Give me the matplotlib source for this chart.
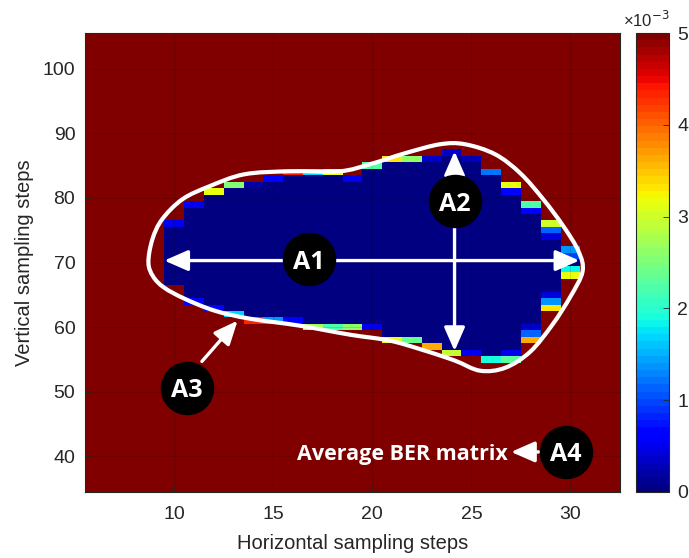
import numpy as np
import matplotlib
matplotlib.use("Agg")
import matplotlib.pyplot as plt
from matplotlib.path import Path
from matplotlib.patches import PathPatch

# ---------------- data ----------------
x_cols = np.arange(6, 33)          # horizontal sampling steps
y_rows = np.arange(35, 106)        # vertical sampling steps
ber_max = 5e-3

blue_cols = list(range(10, 31))
top_rows = [76, 79, 81, 82, 82, 83, 84, 84, 84, 83, 85, 86, 86, 86, 87, 86, 84, 82, 79, 76, 72]
bottom_rows = [67, 64, 63, 62, 61, 61, 61, 60, 60, 60, 60, 58, 58, 57, 56, 56, 55, 55, 58, 63, 68]

# edge cells (column, row, BER in units of 1e-3)
edge_cols = [10, 11, 11, 12, 12, 13, 13, 14, 14, 15, 15, 16, 16, 17, 17, 18, 18, 19, 19,
             20, 20, 21, 21, 22, 22, 23, 23, 24, 24, 25, 25, 26, 26,
             27, 27, 27, 27, 28, 28, 28, 28, 28, 29, 29, 29, 29, 29, 29, 30, 30, 30, 30]
edge_rows = [76, 79, 64, 81, 63, 82, 62, 82, 61, 83, 61, 84, 61, 84, 60, 84, 60, 83, 60,
             85, 60, 86, 58, 86, 58, 86, 57, 87, 56, 86, 56, 84, 55,
             82, 81, 56, 55, 79, 78, 60, 59, 58, 76, 75, 74, 65, 64, 63, 72, 71, 69, 68]
edge_vals = [0.5, 0.5, 0.6, 3.2, 0.7, 2.5, 1.7, 0.2, 4.3, 0.65, 1.4, 4.4, 0.55, 1.7, 2.8, 3.2, 2.2, 0.5, 2.6,
             2.2, 0.5, 3.3, 3.2, 2.6, 2.4, 0.35, 3.6, 0.35, 2.9, 0.3, 0.5, 1.2, 1.9,
             3.2, 0.6, 0.5, 2.3, 2.2, 0.6, 0.35, 1.1, 3.6, 3.0, 1.1, 0.4, 0.4, 1.4, 3.35, 1.4, 1.0, 1.85, 3.2]

# white contour outline (data coordinates)
curve_x = [8.70, 8.90, 9.39, 10.41, 11.77, 13.54, 15.82, 18.35, 19.87, 21.65, 23.42, 24.68,
           26.20, 27.47, 28.63, 29.65, 30.41, 30.61, 30.0, 29.09, 27.97, 26.71, 25.44, 24.18,
           22.66, 20.89, 18.86, 16.33, 13.80, 12.03, 10.51, 9.49, 8.94]
curve_y = [70.0, 73.57, 76.67, 79.77, 81.78, 83.64, 84.11, 84.11, 85.19, 86.9, 88.29, 88.29,
           86.74, 83.8, 79.77, 75.58, 71.71, 68.6, 64.73, 60.39, 56.2, 53.72, 53.26, 54.81,
           56.36, 57.91, 58.84, 60.23, 61.32, 62.56, 64.42, 66.12, 67.83]

# ---------------- build matrix ----------------
Z = np.full((len(y_rows), len(x_cols)), ber_max)
for c, t, b in zip(blue_cols, top_rows, bottom_rows):
    ci = c - x_cols[0]
    Z[b - y_rows[0]: t - y_rows[0] + 1, ci] = 0.0
for c, r, v in zip(edge_cols, edge_rows, edge_vals):
    Z[r - y_rows[0], c - x_cols[0]] = v * 1e-3

# ---------------- figure ----------------
plt.rcParams['font.family'] = ['Liberation Sans', 'DejaVu Sans']
fig = plt.figure(figsize=(6.89, 5.58), dpi=100)
ax = fig.add_axes([85/689, 66/558, 535/689, 459/558])
cax = fig.add_axes([636/689, 66/558, 33/689, 459/558])

cmap = plt.get_cmap('jet', 64)
mesh = ax.pcolormesh(x_cols, y_rows, Z, cmap=cmap, vmin=0, vmax=ber_max, shading='nearest')

ax.set_xlim(5.5, 32.5)
ax.set_ylim(34.5, 105.5)
ax.set_xticks([10, 15, 20, 25, 30])
ax.set_yticks([40, 50, 60, 70, 80, 90, 100])
tc = (0.15, 0.15, 0.15)
ax.tick_params(direction='in', length=4, width=0.6, colors=tc, labelsize=14, labelcolor=tc)
ax.tick_params(axis='x', pad=10)
ax.tick_params(axis='y', pad=7)
ax.grid(True, color='black', alpha=0.15, lw=0.6)
for s in ax.spines.values():
    s.set_color(tc)
    s.set_linewidth(0.8)
ax.set_xlabel('Horizontal sampling steps', fontsize=14.5, color=tc, labelpad=8)
ax.set_ylabel('Vertical sampling steps', fontsize=14.5, color=tc, labelpad=6)

# contour outline via closed Catmull-Rom -> cubic Bezier
P = np.column_stack([curve_x, curve_y])
n = len(P)
verts = [P[0]]
codes = [Path.MOVETO]
for i in range(n):
    p0, p1, p2, p3 = P[i - 1], P[i], P[(i + 1) % n], P[(i + 2) % n]
    verts += [p1 + (p2 - p0) / 6, p2 - (p3 - p1) / 6, p2]
    codes += [Path.CURVE4] * 3
ax.add_patch(PathPatch(Path(verts, codes), fill=False, edgecolor='white', lw=3, zorder=5))

# arrows
arrow_kw = dict(arrowstyle='<|-|>,head_length=0.8,head_width=0.35', color='white', lw=2.4,
                shrinkA=0, shrinkB=0, mutation_scale=18)
ax.annotate('', xy=(9.5, 70.3), xytext=(30.45, 70.3), arrowprops=arrow_kw, zorder=6)
ax.annotate('', xy=(24.15, 56.3), xytext=(24.15, 87.2), arrowprops=arrow_kw, zorder=6)
single_kw = dict(arrowstyle='-|>,head_length=0.8,head_width=0.35', color='white', lw=2.4,
                 shrinkA=0, shrinkB=0, mutation_scale=18)
ax.annotate('', xy=(13.2, 61.0), xytext=(11.4, 54.7), arrowprops=single_kw, zorder=6)
ax.annotate('', xy=(27.0, 40.7), xytext=(28.4, 40.7), arrowprops=single_kw, zorder=6)

# labelled circles
labels = ['A1', 'A2', 'A3', 'A4']
lab_x = [16.8, 24.15, 10.65, 29.75]
lab_y = [70.5, 79.5, 50.6, 40.7]
ax.plot(lab_x, lab_y, 'o', ms=37.5, color='black', mec='black', zorder=7)
for t, lx, ly in zip(labels, lab_x, lab_y):
    ax.text(lx, ly, t, color='white', fontsize=18, fontweight='bold', family=['Open Sans'],
            ha='center', va='center_baseline', zorder=8)
ax.text(26.85, 40.7, 'Average BER matrix', color='white', fontsize=15.5, fontweight='bold',
        family=['Open Sans'], ha='right', va='center_baseline', zorder=8)

# colorbar
cb = fig.colorbar(mesh, cax=cax)
cb.set_ticks([0, 1e-3, 2e-3, 3e-3, 4e-3, 5e-3])
cb.set_ticklabels(['0', '1', '2', '3', '4', '5'])
cax.tick_params(direction='in', length=4, width=0.6, colors=tc, labelsize=14, labelcolor=tc, pad=6)
cb.outline.set_edgecolor(tc)
cb.outline.set_linewidth(0.8)
fig.text(623/689, 1 - 20/558, '×10$^{-3}$', fontsize=12, color=tc, ha='left', va='center')

fig.savefig('out.png', dpi=100)
